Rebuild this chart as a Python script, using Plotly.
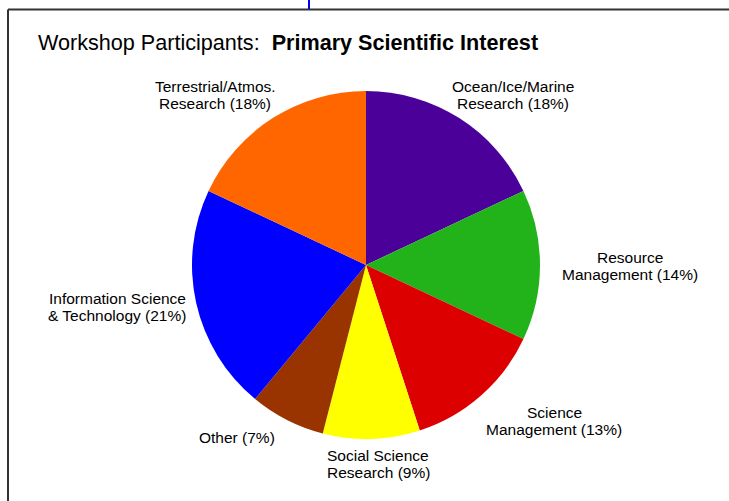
import plotly.graph_objects as go

categories = ["Ocean/Ice/Marine<br>Research", "Resource<br>Management", "Science<br>Management",
              "Social Science<br>Research", "Other", "Information Science<br>& Technology",
              "Terrestrial/Atmos.<br>Research"]
percents = [18, 14, 13, 9, 7, 21, 18]
colors = ["#4B0099", "#22B31A", "#DD0000", "#FFFF00", "#993300", "#0000FF", "#FF6600"]

W, H = 729, 501
label_pos = [(513, 95), (630, 266), (554, 421), (378, 464), (237, 437), (117, 307), (215, 95)]
LINE = 16.5

fig = go.Figure(go.Pie(
    labels=categories, values=percents, sort=False, direction="clockwise", rotation=0,
    marker=dict(colors=colors, line=dict(width=0)), textinfo="none", hoverinfo="skip",
    showlegend=False,
    domain=dict(x=[192 / W, 540 / W], y=[1 - 439 / H, 1 - 91 / H]),
))

annotations = []
for name, pct, (px, py) in zip(categories, percents, label_pos):
    lines = f"{name} ({pct}%)".split("<br>")
    n = len(lines)
    for i, ln in enumerate(lines):
        cy = py + (i - (n - 1) / 2) * LINE
        annotations.append(dict(
            text=ln, x=px / W, y=1 - cy / H, xref="paper", yref="paper",
            xanchor="center", yanchor="middle", showarrow=False, align="center",
            font=dict(family="Liberation Sans, Arial", size=15.5, color="#000000"),
        ))
annotations.append(dict(
    text="Workshop Participants:  <b>Primary Scientific Interest</b>",
    x=36 / W, y=1 - 42 / H, xref="paper", yref="paper", xanchor="left", yanchor="middle",
    showarrow=False, font=dict(family="Liberation Sans, Arial", size=21.6, color="#000000"),
))

shapes = [
    dict(type="line", xref="paper", yref="paper", x0=8 / W, x1=1.5, y0=1 - 9.5 / H, y1=1 - 9.5 / H,
         line=dict(color="#333333", width=2)),
    dict(type="line", xref="paper", yref="paper", x0=8 / W, x1=8 / W, y0=-0.5, y1=1 - 9.5 / H,
         line=dict(color="#333333", width=2)),
    dict(type="line", xref="paper", yref="paper", x0=309 / W, x1=309 / W, y0=1 - 9 / H, y1=1.5,
         line=dict(color="#0000FF", width=2)),
]

fig.update_layout(
    width=W, height=H, margin=dict(l=0, r=0, t=0, b=0),
    paper_bgcolor="white", plot_bgcolor="white",
    annotations=annotations, shapes=shapes,
)
fig.write_html("out.html", config={"displayModeBar": False},
               post_script="document.documentElement.style.margin='0';document.documentElement.style.overflow='hidden';document.body.style.margin='0';document.body.style.overflow='hidden';")
